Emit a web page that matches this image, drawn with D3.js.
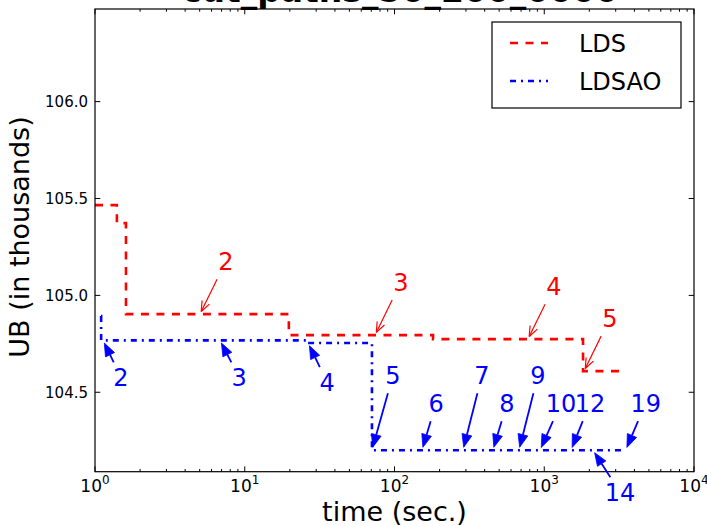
<!DOCTYPE html>
<html><head><meta charset="utf-8">
<script src="https://cdn.jsdelivr.net/npm/d3@7"></script>
<style>body{margin:0;background:#fff} svg{display:block} text{font-family:"DejaVu Sans",sans-serif}</style>
</head><body><svg id="c" width="707" height="526"></svg>
<script>
// ---- data ----
const titleText = "cut_paths_50_200_0000";
const ldsTime = [1.0, 1.40, 1.61, 19.7, 180.8, 1815, 3357];
const ldsUB   = [105.466, 105.373, 104.903, 104.795, 104.774, 104.609, 104.609];
const aoTime  = [1.097, 1.099, 26.0, 70.7, 3500];
const aoUB    = [104.893, 104.768, 104.754, 104.201, 104.201];
const ldsAnnoLabel = ["2", "3", "4", "5"];
const ldsAnnoTime  = [5.02, 74.1, 778, 1842];
const ldsAnnoUB    = [104.903, 104.795, 104.774, 104.609];
const aoAnnoLabel = ["2", "3", "4", "5", "6", "7", "8", "9", "10", "12", "19", "14"];
const aoAnnoTime  = [1.131, 6.84, 26.5, 70.7, 152.7, 286.6, 454.7, 678, 937, 1509, 3500, 2117];
const aoAnnoUB    = [104.768, 104.768, 104.754, 104.201, 104.201, 104.201, 104.201, 104.201, 104.201, 104.201, 104.201, 104.201];
const xTickExp = [0, 1, 2, 3, 4];
const yTicks = [104.5, 105.0, 105.5, 106.0];
const seriesNames = ["LDS", "LDSAO"];

// ---- layout / style ----
const L = 95, R = 694, T = 9, B = 471.7;
const ldsOffset = [26, -53];
const aoOffsets = [[18,37],[19,37],[19,39],[21,-75],[14,-47],[19,-75],[14,-47],[19,-75],[21,-47],[19,-47],[20,-47],[27,42]];
const RED = "#ff0000", BLUE = "#0000ff";
const LW = 2.6;

const svg = d3.select("#c");
const x = d3.scaleLog().domain([1, 1e4]).range([L, R]);
const y = d3.scaleLinear().domain([104.09, 106.478]).range([B, T]);

svg.append("defs").append("clipPath").attr("id","clip")
  .append("rect").attr("x",L).attr("y",T).attr("width",R-L).attr("height",B-T);

// title (mostly cut off above)
svg.append("text").attr("x",400).attr("y",2).attr("text-anchor","middle")
  .attr("font-size",33).attr("font-weight","bold").text(titleText);

// lines
const line = d3.line().x(d=>x(d[0])).y(d=>y(d[1])).curve(d3.curveStepAfter);
const g = svg.append("g").attr("clip-path","url(#clip)");
g.append("path").attr("d", line(ldsTime.map((t,i)=>[t, ldsUB[i]])))
  .attr("fill","none").attr("stroke",RED).attr("stroke-width",LW).attr("stroke-dasharray","8,7.5");
g.append("path").attr("d", line(aoTime.map((t,i)=>[t, aoUB[i]])))
  .attr("fill","none").attr("stroke",BLUE).attr("stroke-width",LW).attr("stroke-dasharray","6,5,2,5");

// axes frame & ticks
const axG = svg.append("g");
axG.append("rect").attr("x",L).attr("y",T).attr("width",R-L).attr("height",B-T)
  .attr("fill","none").attr("stroke","#000").attr("stroke-width",1.2);
const minors = [];
xTickExp.slice(0,-1).forEach(e=>{ for(let k=2;k<=9;k++) minors.push(k*Math.pow(10,e)); });
const majorsX = xTickExp.map(e=>Math.pow(10,e));
function tick(x1,y1,x2,y2){ axG.append("line").attr("x1",x1).attr("y1",y1).attr("x2",x2).attr("y2",y2).attr("stroke","#000").attr("stroke-width",1); }
majorsX.forEach(v=>{ const px=x(v); tick(px,B,px,B-5.3); tick(px,T,px,T+5.3); });
minors.forEach(v=>{ const px=x(v); tick(px,B,px,B-2.7); tick(px,T,px,T+2.7); });
yTicks.forEach(v=>{ const py=y(v); tick(L,py,L+5.3,py); tick(R,py,R-5.3,py); });

// tick labels
xTickExp.forEach(e=>{
  const t = axG.append("text").attr("x",x(Math.pow(10,e))).attr("y",492).attr("text-anchor","middle").attr("font-size",17);
  t.append("tspan").text("10");
  t.append("tspan").attr("dy",-8).attr("font-size",12).text(String(e));
});
yTicks.forEach(v=>{
  axG.append("text").attr("x",88).attr("y",y(v)).attr("dy","0.36em").attr("text-anchor","end")
    .attr("font-size",15).text(v.toFixed(1));
});

// axis labels
svg.append("text").attr("x",(L+R)/2).attr("y",521).attr("text-anchor","middle").attr("font-size",27).text("time (sec.)");
svg.append("text").attr("transform","translate(29,237) rotate(-90)").attr("text-anchor","middle").attr("font-size",27).text("UB (in thousands)");

// annotations
const annG = svg.append("g");
function annotate(label, t, v, off, color, filled){
  const px = x(t), py = y(v);
  const cx = px + off[0], cy = py + off[1];
  const fs = 24;
  annG.append("text").attr("x",cx).attr("y",cy).attr("dy","0.36em").attr("text-anchor","middle")
    .attr("font-size",fs).attr("fill",color).text(label);
  const dxv = px-cx, dyv = py-cy, len = Math.hypot(dxv,dyv);
  const ux = dxv/len, uy = dyv/len;
  const hw = label.length*0.636*fs/2 + 4;
  const hh = uy > 0 ? 18 : 15;
  const tExit = Math.min(Math.abs(ux) > 1e-6 ? hw/Math.abs(ux) : 1e9, hh/Math.abs(uy));
  const sx = cx + ux*tExit, sy = cy + uy*tExit;
  const tipx = px - ux*3, tipy = py - uy*3;
  if(filled){
    const hl = 13, hwid = 5;
    const bx = tipx - ux*hl, by = tipy - uy*hl;
    annG.append("line").attr("x1",sx).attr("y1",sy).attr("x2",bx).attr("y2",by)
      .attr("stroke",color).attr("stroke-width",1.8);
    annG.append("path").attr("d",`M${tipx},${tipy}L${bx - uy*hwid},${by + ux*hwid}L${bx + uy*hwid},${by - ux*hwid}Z`)
      .attr("fill",color).attr("stroke",color).attr("stroke-width",0.8);
  } else {
    annG.append("line").attr("x1",sx).attr("y1",sy).attr("x2",tipx).attr("y2",tipy)
      .attr("stroke",color).attr("stroke-width",1.2);
    const hl = 11, ang = 0.38;
    [ang,-ang].forEach(a=>{
      const c=Math.cos(a), s=Math.sin(a);
      const rx = -(ux*c - uy*s), ry = -(ux*s + uy*c);
      annG.append("line").attr("x1",tipx).attr("y1",tipy).attr("x2",tipx+rx*hl).attr("y2",tipy+ry*hl)
        .attr("stroke",color).attr("stroke-width",1.2);
    });
  }
}
ldsAnnoLabel.forEach((lb,i)=>annotate(lb, ldsAnnoTime[i], ldsAnnoUB[i], ldsOffset, RED, false));
aoAnnoLabel.forEach((lb,i)=>annotate(lb, aoAnnoTime[i], aoAnnoUB[i], aoOffsets[i], BLUE, true));

// legend
const lg = svg.append("g");
lg.append("rect").attr("x",492).attr("y",22).attr("width",189).attr("height",86)
  .attr("fill","#fff").attr("stroke","#000").attr("stroke-width",1.2);
[[RED,"8,7.5",43],[BLUE,"6,5,2,5",81]].forEach((s,i)=>{
  lg.append("line").attr("x1",510).attr("x2",548).attr("y1",s[2]).attr("y2",s[2])
    .attr("stroke",s[0]).attr("stroke-width",LW).attr("stroke-dasharray",s[1]);
  lg.append("text").attr("x",579).attr("y",s[2]).attr("dy","0.36em").attr("font-size",24).text(seriesNames[i]);
});
</script></body></html>
